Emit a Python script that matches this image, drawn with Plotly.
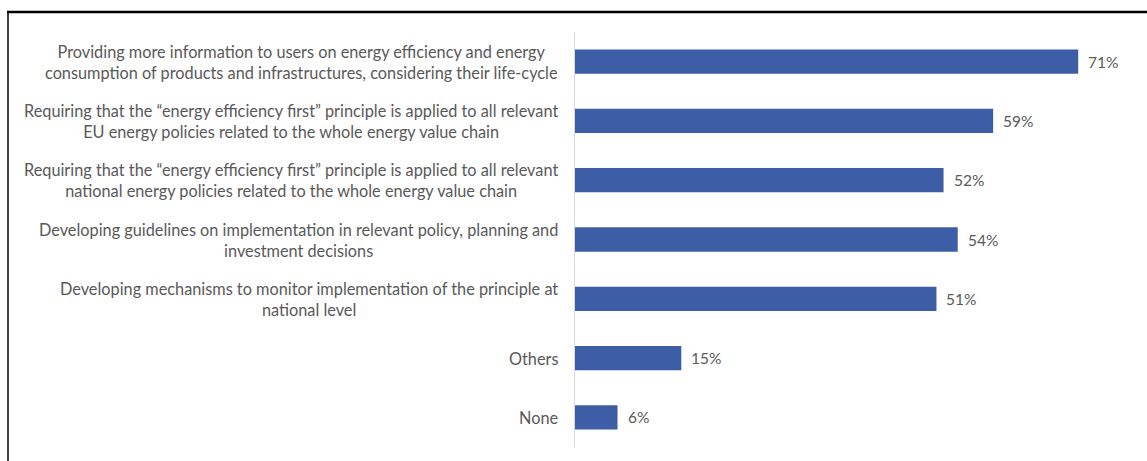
import plotly.graph_objects as go

# Survey options (top to bottom) and share of respondents selecting each
categories = [
    "Providing more information to users on energy efficiency and energy<br>consumption of products and infrastructures, considering their life-cycle",
    "Requiring that the “energy efficiency first” principle is applied to all relevant<br>EU energy policies related to the whole energy value chain",
    "Requiring that the “energy efficiency first” principle is applied to all relevant<br>national energy policies related to the whole energy value chain",
    "Developing guidelines on implementation in relevant policy, planning and<br>investment decisions",
    "Developing mechanisms to monitor implementation of the principle at<br>national level",
    "Others",
    "None",
]
values = [71, 59, 52, 54, 51, 15, 6]

W, H = 1147, 461
ML, MR, MT, MB = 575, 5, 32, 14
TEXT = "#595959"
FONT = "Lato"

n = len(categories)
ypos = list(range(n))  # 0 at top, axis reversed

fig = go.Figure()
fig.add_trace(go.Bar(
    x=values,
    y=ypos,
    orientation="h",
    width=0.41,
    marker=dict(color="#3D5EA6", line=dict(width=0)),
    hoverinfo="skip",
))

annotations = []
# category labels, centered lines, right edge left of the axis
for i, lab in enumerate(categories):
    annotations.append(dict(
        x=0, y=i, xref="paper", yref="y",
        text=lab, showarrow=False,
        xanchor="right", yanchor="middle", align="center",
        xshift=-15,
        font=dict(family=FONT, size=16.3, color=TEXT),
    ))
# value labels to the right of each bar
for i, v in enumerate(values):
    annotations.append(dict(
        x=v, y=i, xref="x", yref="y",
        text=f"{v}%", showarrow=False,
        xanchor="left", yanchor="middle",
        xshift=8,
        font=dict(family=FONT, size=15.5, color=TEXT),
    ))

plot_w = W - ML - MR
def px_to_paper_x(px):
    return (px - ML) / plot_w

plot_h = H - MT - MB
def px_to_paper_y(py):
    return 1 - (py - MT) / plot_h

shapes = [
    # frame: top and left edges
    dict(type="line", xref="paper", yref="paper",
         x0=px_to_paper_x(7), x1=px_to_paper_x(W + 5),
         y0=px_to_paper_y(12), y1=px_to_paper_y(12),
         line=dict(color="#000000", width=2.5)),
    dict(type="line", xref="paper", yref="paper",
         x0=px_to_paper_x(8), x1=px_to_paper_x(8),
         y0=px_to_paper_y(12), y1=px_to_paper_y(H + 5),
         line=dict(color="#000000", width=1.5)),
]

fig.update_layout(
    width=W, height=H,
    margin=dict(l=ML, r=MR, t=MT, b=MB, pad=0),
    paper_bgcolor="white", plot_bgcolor="white",
    showlegend=False,
    xaxis=dict(range=[0, 80], visible=False, fixedrange=True),
    yaxis=dict(range=[n - 0.5, -0.5], showticklabels=False, ticks="",
               showgrid=False, zeroline=False,
               showline=True, linecolor="#D9D9D9", linewidth=1),
    annotations=annotations,
    shapes=shapes,
)

fig.write_html("out.html")
